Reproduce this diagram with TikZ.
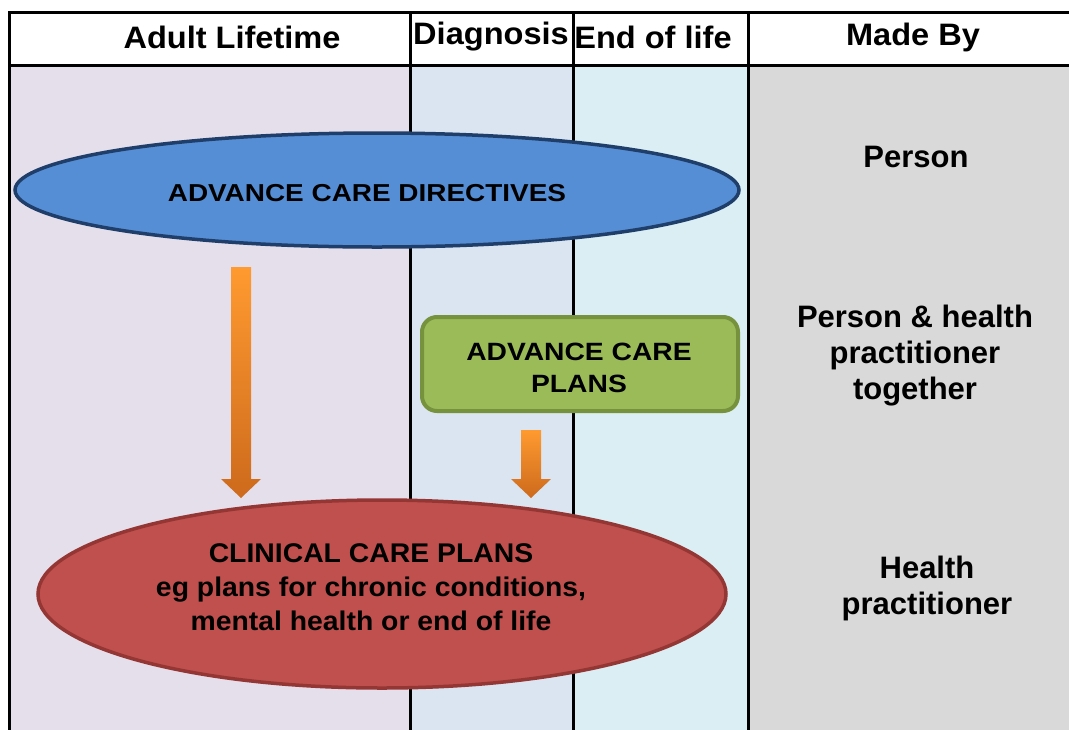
\documentclass[tikz,border=0pt]{standalone}
\usepackage{fontspec}
\setmainfont{Liberation Sans}
\usetikzlibrary{shapes.geometric,calc}
\definecolor{colA}{HTML}{E5DFEC}
\definecolor{colB}{HTML}{DBE5F1}
\definecolor{colC}{HTML}{DAEEF3}
\definecolor{colD}{HTML}{D9D9D9}
\definecolor{blueFill}{HTML}{558ED5}
\definecolor{blueLine}{HTML}{1F3F6A}
\definecolor{greenFill}{HTML}{9BBB59}
\definecolor{greenLine}{HTML}{76923C}
\definecolor{redFill}{HTML}{C0504D}
\definecolor{redLine}{HTML}{943634}
\definecolor{orTop}{HTML}{FF9A30}
\definecolor{orBot}{HTML}{CD6A1C}
\tikzset{
  grid/.style={line width=3pt, black},
  hdr/.style={font=\fontsize{31}{31}\selectfont\bfseries\addfontfeature{FakeStretch=1.05}, inner sep=0pt},
  madeby/.style={font=\fontsize{31}{36}\selectfont\bfseries, align=center, inner sep=0pt},
  blueell/.style={ellipse, fill=blueFill, draw=blueLine, line width=3.5pt, minimum width=724pt, minimum height=114pt, inner sep=0pt},
  bluetext/.style={inner sep=0pt, font=\fontsize{24.5}{26}\selectfont\bfseries\addfontfeature{FakeStretch=1.14}},
  redell/.style={ellipse, fill=redFill, draw=redLine, line width=3.5pt, minimum width=688pt, minimum height=188pt, inner sep=0pt},
  redtext/.style={inner sep=0pt, align=center, font=\fontsize{27}{34}\selectfont\bfseries\addfontfeature{FakeStretch=1.05}},
  greenbox/.style={rectangle, rounded corners=15pt, fill=greenFill, draw=greenLine, line width=4pt, minimum width=316pt, minimum height=94pt, inner sep=0pt},
  greentext/.style={inner sep=0pt, align=center, font=\fontsize{25}{32}\selectfont\bfseries\addfontfeature{FakeStretch=1.13}},
  arrowshade/.style={top color=orTop, bottom color=orBot, draw=none}
}
\begin{document}
\begin{tikzpicture}[x=1pt,y=-1pt]
\useasboundingbox (0,0) rectangle (1069,729);
\clip (0,0) rectangle (1069,729);
% column backgrounds
\fill[white] (9,12) rectangle (1075,65);
\fill[colA] (9,65) rectangle (410,735);
\fill[colB] (410,65) rectangle (573,735);
\fill[colC] (573,65) rectangle (748,735);
\fill[colD] (748,65) rectangle (1075,735);
% grid
\draw[grid] (9,735) -- (9,12) -- (1075,12);
\draw[grid] (9,65) -- (1075,65);
\draw[grid] (410,12) -- (410,735);
\draw[grid] (573,12) -- (573,735);
\draw[grid] (748,12) -- (748,735);
% headers
\node[hdr] (h1) at (232,37) {Adult Lifetime};
\node[hdr] (h2) at (491,37) {Diagnosis};
\node[hdr] (h3) at (653,37) {End of life};
\node[hdr] (h4) at (913,37) {Made By};
% made by texts
\node[madeby] (m1) at (916,157) {Person};
\node[madeby] (m2) at (915,356) {Person \& health\\practitioner\\together};
\node[madeby] (m3) at (927,588) {Health\\practitioner};
% shapes
\node[blueell] (acd) at (377,190) {};
\node[bluetext] (acdt) at ($(acd)+(-10,3)$) {ADVANCE CARE DIRECTIVES};
\node[greenbox] (acp) at (580,364) {};
\node[greentext] (acpt) at ($(acp)+(-1,4)$) {ADVANCE CARE\\PLANS};
\node[redell] (ccp) at (382,594) {};
\node[redtext] (ccpt) at ($(ccp)+(-11,-7)$) {CLINICAL CARE PLANS\\eg plans for chronic conditions,\\mental health or end of life};
% arrows
\coordinate (a1s) at (241,267);
\coordinate (a1e) at (241,498);
\coordinate (a2s) at (531,430);
\coordinate (a2e) at (531,498);
\shade[arrowshade] ($(a1s)+(-10,0)$) -- ($(a1s)+(10,0)$) -- ($(a1e)+(10,-19)$) -- ($(a1e)+(20,-19)$) -- (a1e) -- ($(a1e)+(-20,-19)$) -- ($(a1e)+(-10,-19)$) -- cycle;
\shade[arrowshade] ($(a2s)+(-10,0)$) -- ($(a2s)+(10,0)$) -- ($(a2e)+(10,-19)$) -- ($(a2e)+(20,-19)$) -- (a2e) -- ($(a2e)+(-20,-19)$) -- ($(a2e)+(-10,-19)$) -- cycle;
\end{tikzpicture}
\end{document}
